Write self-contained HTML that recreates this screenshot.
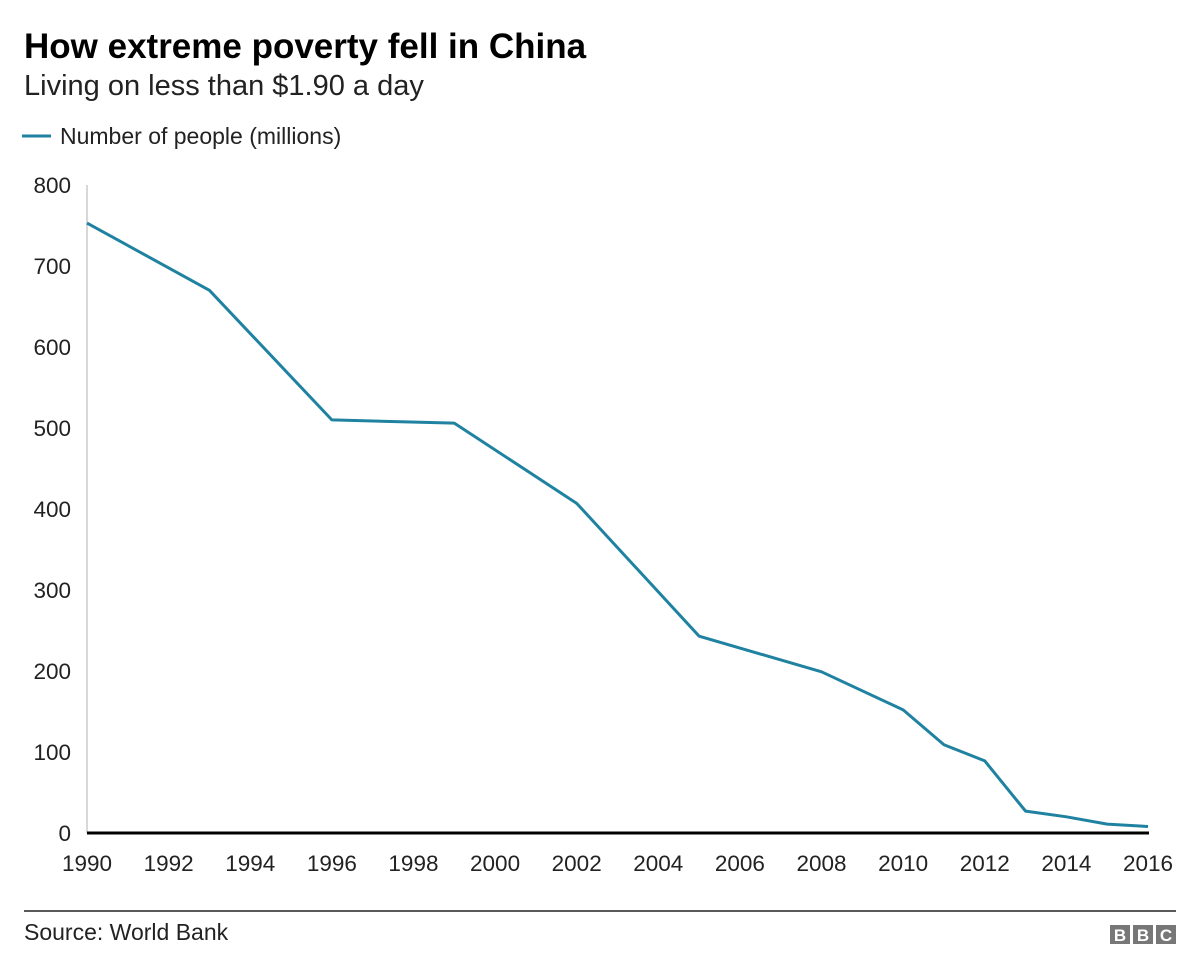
<!DOCTYPE html>
<html><head><meta charset="utf-8"><style>
body{margin:0;background:#fff;width:1200px;height:975px;overflow:hidden;font-family:"Liberation Sans",Arial,sans-serif;}
</style></head><body>
<svg width="1200" height="975" xmlns="http://www.w3.org/2000/svg" font-family="Liberation Sans, Arial, sans-serif">
<text x="24" y="58" font-size="35" font-weight="bold" fill="#000">How extreme poverty fell in China</text>
<text x="24" y="95" font-size="29" fill="#222">Living on less than $1.90 a day</text>
<g>
<line x1="22" y1="136" x2="51" y2="136" stroke="#1f82a0" stroke-width="3"/>
<text x="60" y="144" font-size="23" fill="#222">Number of people (millions)</text>
</g>
<g id="yaxis"></g>
<g id="xaxis"></g>
<g id="plot"></g>
<line x1="24" y1="911" x2="1176" y2="911" stroke="#222" stroke-width="1.5"/>
<text x="24" y="940" font-size="23" fill="#222">Source: World Bank</text>
<g>
<rect x="1110" y="925" width="20" height="19" fill="#777"/><rect x="1133" y="925" width="20" height="19" fill="#777"/><rect x="1156" y="925" width="20" height="19" fill="#777"/>
<text x="1120" y="941" font-size="17" font-weight="bold" fill="#fff" text-anchor="middle">B</text>
<text x="1143" y="941" font-size="17" font-weight="bold" fill="#fff" text-anchor="middle">B</text>
<text x="1166" y="941" font-size="17" font-weight="bold" fill="#fff" text-anchor="middle">C</text>
</g>
</svg>
<script>
const years=[1990,1993,1996,1999,2002,2005,2008,2010,2011,2012,2013,2014,2015,2016];
const values=[753,670,510,506,407,243,199,152,109,89,27,20,11,8];
const yTicks=[0,100,200,300,400,500,600,700,800];
const xTicks=[1990,1992,1994,1996,1998,2000,2002,2004,2006,2008,2010,2012,2014,2016];
const NS="http://www.w3.org/2000/svg";
const x=v=>87+(v-1990)*(1148-87)/26;
const y=v=>833-v*(833-185)/800;
function mk(t,a,p){const e=document.createElementNS(NS,t);for(const k in a)e.setAttribute(k,a[k]);p.appendChild(e);return e;}
const ya=document.getElementById('yaxis'),xa=document.getElementById('xaxis'),pl=document.getElementById('plot');
mk('line',{x1:87,y1:185,x2:87,y2:833,stroke:'#ccc','stroke-width':1.5},ya);
yTicks.forEach(t=>{const e=mk('text',{x:71,y:y(t)+8,'font-size':22.5,fill:'#222','text-anchor':'end'},ya);e.textContent=t;

});
xTicks.forEach(t=>{const e=mk('text',{x:x(t),y:871,'font-size':22.5,fill:'#222','text-anchor':'middle'},xa);e.textContent=t;

});
const ln=mk('polyline',{points:years.map((yr,i)=>x(yr)+','+y(values[i])).join(' '),fill:'none',stroke:'#1f82a0','stroke-width':3,'stroke-linejoin':'round'},pl);


const base=mk('line',{x1:87,y1:833,x2:1149,y2:833,stroke:'#000','stroke-width':3},pl);


</script>
</body></html>
